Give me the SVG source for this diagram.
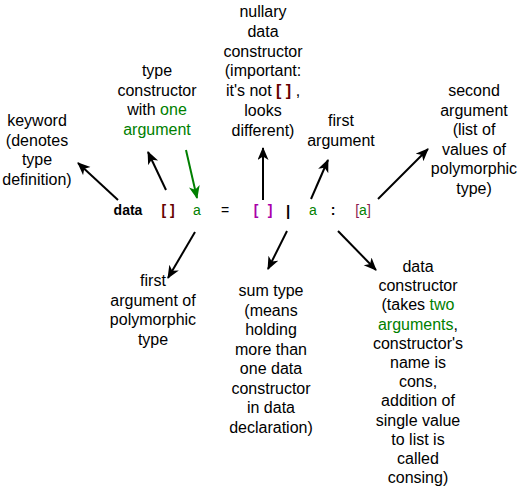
<svg xmlns="http://www.w3.org/2000/svg" width="524" height="488" viewBox="0 0 524 488">
<style>
text{font-family:"Liberation Sans",Arial,sans-serif;font-size:16px;fill:#000;text-anchor:middle}
.code{font-size:14px}
.b{font-weight:bold}
.g{fill:#007F00}
.dr{fill:#660000;font-weight:bold}
.mg{fill:#AA00AA;font-weight:bold}
.pr{fill:#8B1A50}
.ln{stroke:#000;stroke-width:2;fill:none;marker-end:url(#ah)}
.lg{stroke:#007F00;stroke-width:2;fill:none;marker-end:url(#ahg)}
</style>
<defs>
<marker id="ah" markerUnits="userSpaceOnUse" markerWidth="14" markerHeight="12" refX="12" refY="5.5" orient="auto"><path d="M0,0 L13,5.5 L0,11 L3.5,5.5 Z" fill="#000"/></marker>
<marker id="ahg" markerUnits="userSpaceOnUse" markerWidth="14" markerHeight="12" refX="12" refY="5.5" orient="auto"><path d="M0,0 L13,5.5 L0,11 L3.5,5.5 Z" fill="#007F00"/></marker>
</defs>
<g id="code">
<text class="code b" x="128" y="215">data</text>
<text class="code dr" x="168" y="215">[ ]</text>
<text class="code g" x="197" y="215">a</text>
<text class="code" x="225" y="215">=</text>
<text class="code mg" x="256" y="215">[</text>
<text class="code mg" x="270" y="215">]</text>
<text class="code b" x="288" y="216" style="font-size:15px">|</text>
<text class="code g" x="313" y="215">a</text>
<text class="code b" x="333" y="215">:</text>
<text class="code" x="363" y="215"><tspan class="pr">[</tspan><tspan class="g">a</tspan><tspan class="pr">]</tspan></text>
</g>
<g id="nullary">
<text x="263" y="17">nullary<tspan x="263" dy="19.8">data</tspan><tspan x="263" dy="19.8">constructor</tspan><tspan x="263" dy="19.8">(important:</tspan><tspan x="263" dy="19.8">it's not <tspan class="dr">[ ]</tspan> ,</tspan><tspan x="263" dy="19.8">looks</tspan><tspan x="263" dy="19.8">different)</tspan></text>
</g>
<g id="keyword">
<text x="37" y="126">keyword<tspan x="37" dy="19.5">(denotes</tspan><tspan x="37" dy="19.5">type</tspan><tspan x="37" dy="19.5">definition)</tspan></text>
</g>
<g id="typecons">
<text x="157" y="76">type<tspan x="157" dy="19.5">constructor</tspan><tspan x="157" dy="19.5">with <tspan class="g">one</tspan></tspan><tspan x="157" dy="19.5" class="g">argument</tspan></text>
</g>
<g id="firstarg">
<text x="341" y="126">first<tspan x="341" dy="19.5">argument</tspan></text>
</g>
<g id="secondarg">
<text x="474" y="96">second<tspan x="474" dy="19.5">argument</tspan><tspan x="474" dy="19.5">(list of</tspan><tspan x="474" dy="19.5">values of</tspan><tspan x="474" dy="19.5">polymorphic</tspan><tspan x="474" dy="19.5">type)</tspan></text>
</g>
<g id="firstpoly">
<text x="153" y="286">first<tspan x="153" dy="19.5">argument of</tspan><tspan x="153" dy="19.5">polymorphic</tspan><tspan x="153" dy="19.5">type</tspan></text>
</g>
<g id="sumtype">
<text x="271" y="296">sum type<tspan x="271" dy="19.5">(means</tspan><tspan x="271" dy="19.5">holding</tspan><tspan x="271" dy="19.5">more than</tspan><tspan x="271" dy="19.5">one data</tspan><tspan x="271" dy="19.5">constructor</tspan><tspan x="271" dy="19.5">in data</tspan><tspan x="271" dy="19.5">declaration)</tspan></text>
</g>
<g id="datacons">
<text x="418" y="272">data<tspan x="418" dy="19.2">constructor</tspan><tspan x="418" dy="19.2">(takes <tspan class="g">two</tspan></tspan><tspan x="418" dy="19.2"><tspan class="g">arguments</tspan>,</tspan><tspan x="418" dy="19.2">constructor's</tspan><tspan x="418" dy="19.2">name is</tspan><tspan x="418" dy="19.2">cons,</tspan><tspan x="418" dy="19.2">addition of</tspan><tspan x="418" dy="19.2">single value</tspan><tspan x="418" dy="19.2">to list is</tspan><tspan x="418" dy="19.2">called</tspan><tspan x="418" dy="19.2">consing)</tspan></text>
</g>
<g id="connectors">
<line class="ln" x1="118" y1="200" x2="78" y2="163"/>
<line class="ln" x1="166" y1="190" x2="148" y2="152"/>
<line class="lg" x1="186" y1="150" x2="197" y2="198"/>
<line class="ln" x1="263" y1="200" x2="263" y2="148"/>
<line class="ln" x1="311" y1="199" x2="328" y2="160"/>
<line class="ln" x1="378" y1="199" x2="428" y2="149"/>
<line class="ln" x1="195" y1="232" x2="168" y2="278"/>
<line class="ln" x1="287" y1="231" x2="268" y2="269"/>
<line class="ln" x1="338" y1="231" x2="376" y2="270"/>
</g>
</svg>
